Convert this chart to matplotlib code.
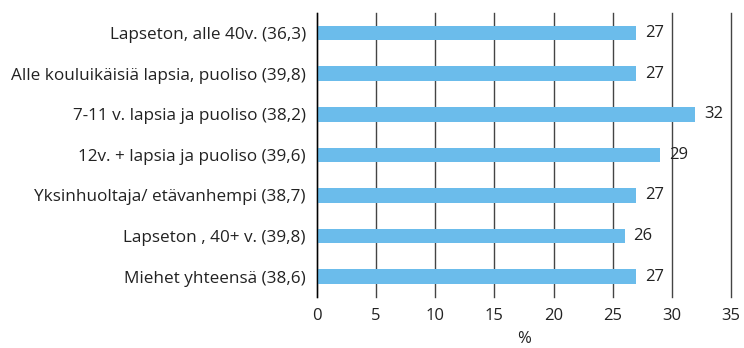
import matplotlib.pyplot as plt

plt.rcParams['font.family'] = ['Open Sans', 'DejaVu Sans']

kategoriat = [
    "Lapseton, alle 40v. (36,3)",
    "Alle kouluikäisiä lapsia, puoliso (39,8)",
    "7-11 v. lapsia ja puoliso (38,2)",
    "12v. + lapsia ja puoliso (39,6)",
    "Yksinhuoltaja/ etävanhempi (38,7)",
    "Lapseton , 40+ v. (39,8)",
    "Miehet yhteensä (38,6)",
]
arvot = [27, 27, 32, 29, 27, 26, 27]
xtiks = [0, 5, 10, 15, 20, 25, 30, 35]

fig = plt.figure(figsize=(7.44, 3.48), dpi=100)
ax = fig.add_axes([0.426, 0.147, 0.5565, 0.816])

y = list(range(len(kategoriat)))
ax.barh(y, arvot, height=0.36, color='#6BBCEB', zorder=2)
for i, v in zip(y, arvot):
    ax.text(v + 0.75, i, str(v), va='center', ha='left', fontsize=12, color='#222222')

ax.set_ylim(len(kategoriat) - 0.5, -0.5)
ax.set_xlim(0, 35)
ax.set_xticks(xtiks)
ax.set_yticks(y)
ax.set_yticklabels(kategoriat, fontsize=12.3, color='#222222')
ax.tick_params(axis='both', length=0, labelcolor='#222222')
ax.tick_params(axis='x', pad=8, labelsize=12)
ax.tick_params(axis='y', pad=8)
ax.xaxis.grid(True, color='#444444', linewidth=1.0, zorder=1)
for g in ax.get_xgridlines():
    g.set_clip_on(False)
for s in ['top', 'right', 'bottom']:
    ax.spines[s].set_visible(False)
ax.spines['left'].set_color('black')
ax.spines['left'].set_linewidth(1.0)
ax.set_xlabel('%', fontsize=12, color='#222222', labelpad=5)

fig.savefig('out.png', dpi=100)
